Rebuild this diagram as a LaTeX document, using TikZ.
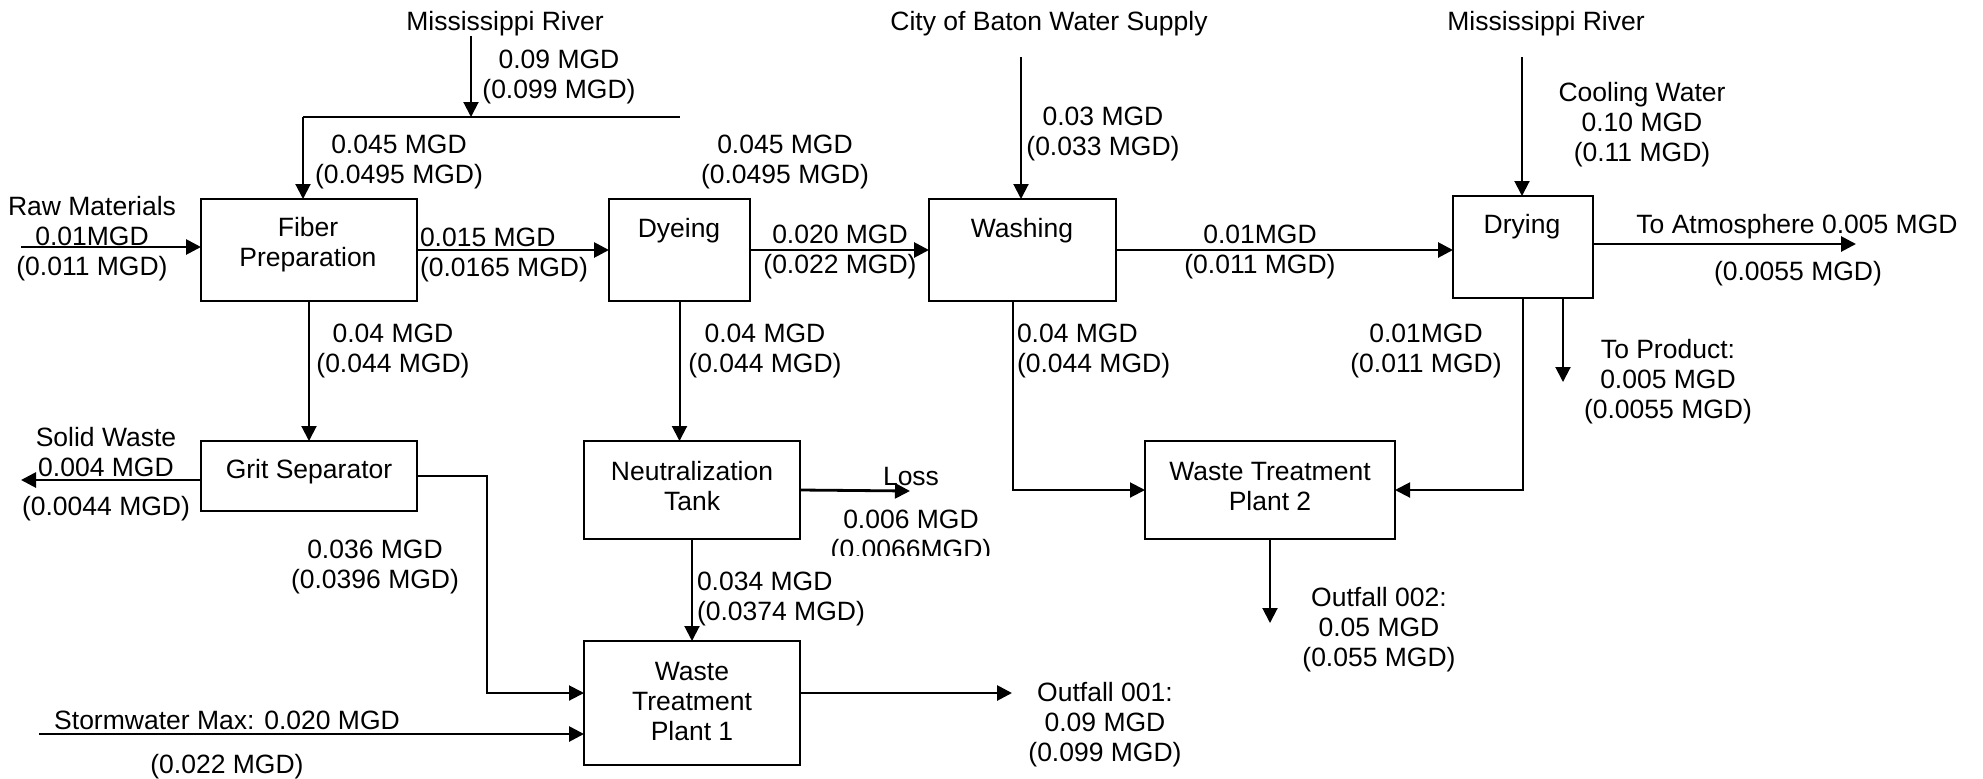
\documentclass[tikz,border=0pt]{standalone}
\usepackage{fontspec}
\setmainfont{Liberation Sans}
\usetikzlibrary{arrows.meta}
\begin{document}
\begin{tikzpicture}[x=0.5pt,y=-0.5pt,
  every node/.style={font=\fontsize{13.25pt}{15pt}\selectfont, inner sep=0pt, outer sep=0pt},
  box/.style={draw, line width=0.9pt, minimum height=51pt},
  txt/.style={yshift=-1.75pt},
  lbl/.style={txt, align=center},
  lbll/.style={txt, align=left, anchor=west},
  conn/.style={line width=1pt},
  arr/.style={conn, -{Triangle[length=7.5pt,width=7.5pt]}},
  harr/.style={arr, line width=1.4pt}
]
\useasboundingbox (0,0) rectangle (1983,778);

% ---- boxes ----
\node[box, minimum width=108pt] (fp) at (309,250) {};
\node[box, minimum width=70.5pt] (dye) at (679.5,250) {};
\node[box, minimum width=93.5pt] (wash) at (1022.5,250) {};
\node[box, minimum width=70pt] (dry) at (1523,247) {};
\node[box, minimum width=108pt, minimum height=35pt] (grit) at (309,476) {};
\node[box, minimum width=108pt, minimum height=49pt] (neut) at (692,490) {};
\node[box, minimum width=108pt, minimum height=62pt] (wtp1) at (692,703) {};
\node[box, minimum width=125pt, minimum height=49pt] (wtp2) at (1270,490) {};

% ---- box texts ----
\node[lbl] (tfp) at (308,241) {Fiber\\Preparation};
\node[txt] (tdye) at (679,227) {Dyeing};
\node[txt] (twash) at (1022,227) {Washing};
\node[txt] (tdry) at (1522,223) {Drying};
\node[txt] (tgrit) at (309,468) {Grit Separator};
\node[lbl] (tneut) at (692,483) {Neutralization\\Tank};
\node[lbl] (twtp1) at (692,698) {Waste\\Treatment\\Plant 1};
\node[lbl] (twtp2) at (1270,483) {Waste Treatment\\Plant 2};

% ---- sources ----
\node[txt] (mr1) at (505,20) {Mississippi River};
\node[txt] (city) at (1049,20) {City of Baton Water Supply};
\node[txt] (mr2) at (1546,20) {Mississippi River};

% ---- coordinates ----
\coordinate (j1) at (471,117);
\coordinate (j2) at (303,117);
\coordinate (e1) at (680,117);
\coordinate (rm) at (21,247);
\coordinate (c1) at (1021,57);
\coordinate (c2) at (1522,57);
\coordinate (atm) at (1856,244);
\coordinate (prod) at (1563,382);
\coordinate (w1) at (1013,0);
\coordinate (o2) at (1267,623);
\coordinate (sw) at (21,480);
\coordinate (g1) at (487,693);
\coordinate (st) at (39,734);
\coordinate (loss) at (910,491);
\coordinate (o1) at (1012,693);

% ---- connectors ----
\draw[arr] (mr1.south -| j1) -- (j1);
\draw[conn] (j2) -- (e1);
\draw[arr] (j2) -- (fp.north -| j2);
\draw[harr] (rm) -- (fp.west |- rm);
\draw[harr] (fp.east) -- (dye.west);
\draw[harr] (dye.east) -- (wash.west);
\draw[harr] (wash.east) -- (dry.west |- wash.east);
\draw[arr] (c1) -- (wash.north -| c1);
\draw[arr] (c2) -- (dry.north -| c2);
\draw[harr] (dry.east |- atm) -- (atm);
\draw[arr] (dry.south -| prod) -- (prod);
\draw[arr] (dry.south) |- (wtp2.east);
\draw[arr] (wash.south -| w1) |- (wtp2.west);
\draw[arr] (wtp2.south) -- (wtp2.south |- o2);
\draw[arr] (fp.south) -- (grit.north);
\draw[harr] (grit.west |- sw) -- (sw);
\draw[arr] (grit.east) -| (g1) -- (wtp1.west |- g1);
\draw[harr] (st) -- (wtp1.west |- st);
\draw[arr] (dye.south) -- (neut.north -| dye.south);
\draw[arr] (neut.south) -- (wtp1.north);
\draw[harr] (neut.east) -- (loss);
\draw[harr] (wtp1.east |- o1) -- (o1);

% ---- labels ----
\node[lbl] (l1) at (559,73) {0.09 MGD\\(0.099 MGD)};
\node[lbl] (l2) at (399,158) {0.045 MGD\\(0.0495 MGD)};
\node[lbl] (l3) at (785,158) {0.045 MGD\\(0.0495 MGD)};
\node[lbl] (l4) at (92,235) {Raw Materials\\0.01MGD\\(0.011 MGD)};
\node[lbll] (l5) at (420,251) {0.015 MGD\\(0.0165 MGD)};
\node[lbl] (l6) at (840,248) {0.020 MGD\\(0.022 MGD)};
\node[lbl] (l7) at (1103,130) {0.03 MGD\\(0.033 MGD)};
\node[lbl] (l8) at (1260,248) {0.01MGD\\(0.011 MGD)};
\node[lbl] (l9) at (1642,121) {Cooling Water\\0.10 MGD\\(0.11 MGD)};
\node[txt] (l10) at (1797,223) {To Atmosphere 0.005 MGD};
\node[txt] (l11) at (1798,270) {(0.0055 MGD)};
\node[lbl] (l12) at (1426,347) {0.01MGD\\(0.011 MGD)};
\node[lbl] (l13) at (1668,378) {To Product:\\0.005 MGD\\(0.0055 MGD)};
\node[lbl] (l14) at (393,347) {0.04 MGD\\(0.044 MGD)};
\node[lbl] (l15) at (765,347) {0.04 MGD\\(0.044 MGD)};
\node[lbll] (l16) at (1017,347) {0.04 MGD\\(0.044 MGD)};
\node[lbl] (l17) at (106,449) {Solid Waste\\0.004 MGD};
\node[txt] (l17b) at (106,505) {(0.0044 MGD)};
\node[lbl] (l18) at (375,563) {0.036 MGD\\(0.0396 MGD)};
\node[txt] (l19) at (227,717) {Stormwater Max: 0.020 MGD};
\node[txt] (l20) at (227,763) {(0.022 MGD)};
\node[txt] (l21) at (911,473) {Loss};
\begin{scope}
  \clip (800,500) rectangle (1010,555);
  \node[lbl] (l22) at (911,533) {0.006 MGD\\(0.0066MGD)};
\end{scope}
\node[lbll] (l23) at (697,595) {0.034 MGD\\(0.0374 MGD)};
\node[lbl] (l24) at (1105,721) {Outfall 001:\\0.09 MGD\\(0.099 MGD)};
\node[lbl] (l25) at (1379,626) {Outfall 002:\\0.05 MGD\\(0.055 MGD)};
\end{tikzpicture}
\end{document}
